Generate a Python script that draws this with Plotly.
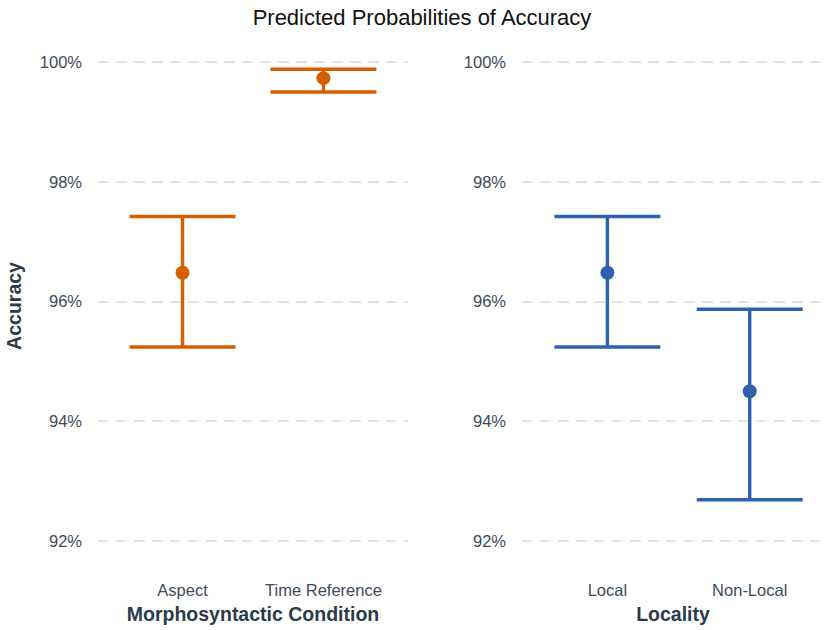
import plotly.graph_objects as go

# ---------------- data ----------------
cond_labels = ["Aspect", "Time Reference"]
cond_mean = [96.48, 99.73]
cond_low = [95.24, 99.50]
cond_high = [97.42, 99.88]

loc_labels = ["Local", "Non-Local"]
loc_mean = [96.48, 94.50]
loc_low = [95.24, 92.69]
loc_high = [97.42, 95.87]

y_ticks = [92, 94, 96, 98, 100]
y_tick_text = ["92%", "94%", "96%", "98%", "100%"]

# ---------------- style ----------------
W, H = 824, 630
ORANGE = "#D55E00"
BLUE = "#2F62AC"
FONT = "Liberation Sans, Arial, sans-serif"
TICK_COLOR = "#3C4A5C"
TITLE_COLOR = "#2B3A4C"

px_per_unit = (541 - 62) / 8.0
y_top_px, y_bot_px = 40, 572
y_range = [92 - (y_bot_px - 541) / px_per_unit, 100 + (62 - y_top_px) / px_per_unit]


def err_trace(labels, mean, low, high, color, xa, ya):
    return go.Scatter(
        x=labels, y=mean, mode="markers",
        marker=dict(color=color, size=14),
        error_y=dict(type="data", symmetric=False,
                     array=[h - m for h, m in zip(high, mean)],
                     arrayminus=[m - l for m, l in zip(mean, low)],
                     color=color, thickness=3.4, width=53),
        xaxis=xa, yaxis=ya, showlegend=False, hoverinfo="skip",
    )


fig = go.Figure()
fig.add_trace(err_trace(cond_labels, cond_mean, cond_low, cond_high, ORANGE, "x", "y"))
fig.add_trace(err_trace(loc_labels, loc_mean, loc_low, loc_high, BLUE, "x2", "y2"))

ydom = [1 - y_bot_px / H, 1 - y_top_px / H]

common_y = dict(
    range=y_range, tickvals=y_ticks, ticktext=y_tick_text,
    showgrid=True, gridcolor="#E3E3E3", gridwidth=2, griddash="11px,7px",
    zeroline=False, showline=False, ticks="", ticklabelstandoff=15,
    tickfont=dict(family=FONT, size=16.5, color=TICK_COLOR),
    domain=ydom,
)
common_x = dict(
    type="category", range=[-0.6, 1.6], showgrid=False, zeroline=False,
    showline=False, ticks="", ticklabelstandoff=6,
    tickfont=dict(family=FONT, size=16.5, color=TICK_COLOR),
)

fig.update_layout(
    width=W, height=H,
    margin=dict(l=0, r=0, t=0, b=0),
    paper_bgcolor="white", plot_bgcolor="white",
    font=dict(family=FONT),
    title=dict(text="Predicted Probabilities of Accuracy", x=422 / W, xanchor="center",
               y=1 - 17 / H, yanchor="middle", yref="container",
               font=dict(family=FONT, size=22, color="#111111")),
    xaxis=dict(common_x, domain=[98 / W, 408 / W], anchor="y",
               title=dict(text="<b>Morphosyntactic Condition</b>", standoff=9,
                          font=dict(family=FONT, size=19.5, color=TITLE_COLOR))),
    xaxis2=dict(common_x, domain=[522 / W, 1.0], anchor="y2",
                range=[-0.6, 1.6 - (835 - 824) / ((408 - 98) / 2.2)],
                title=dict(text="<b>Locality</b>", standoff=9,
                           font=dict(family=FONT, size=19.5, color=TITLE_COLOR))),
    yaxis=dict(common_y, anchor="x",
               title=dict(text="<b>Accuracy</b>", standoff=12,
                          font=dict(family=FONT, size=19.5, color=TITLE_COLOR))),
    yaxis2=dict(common_y, anchor="x2"),
)

fig.write_html("out.html")
